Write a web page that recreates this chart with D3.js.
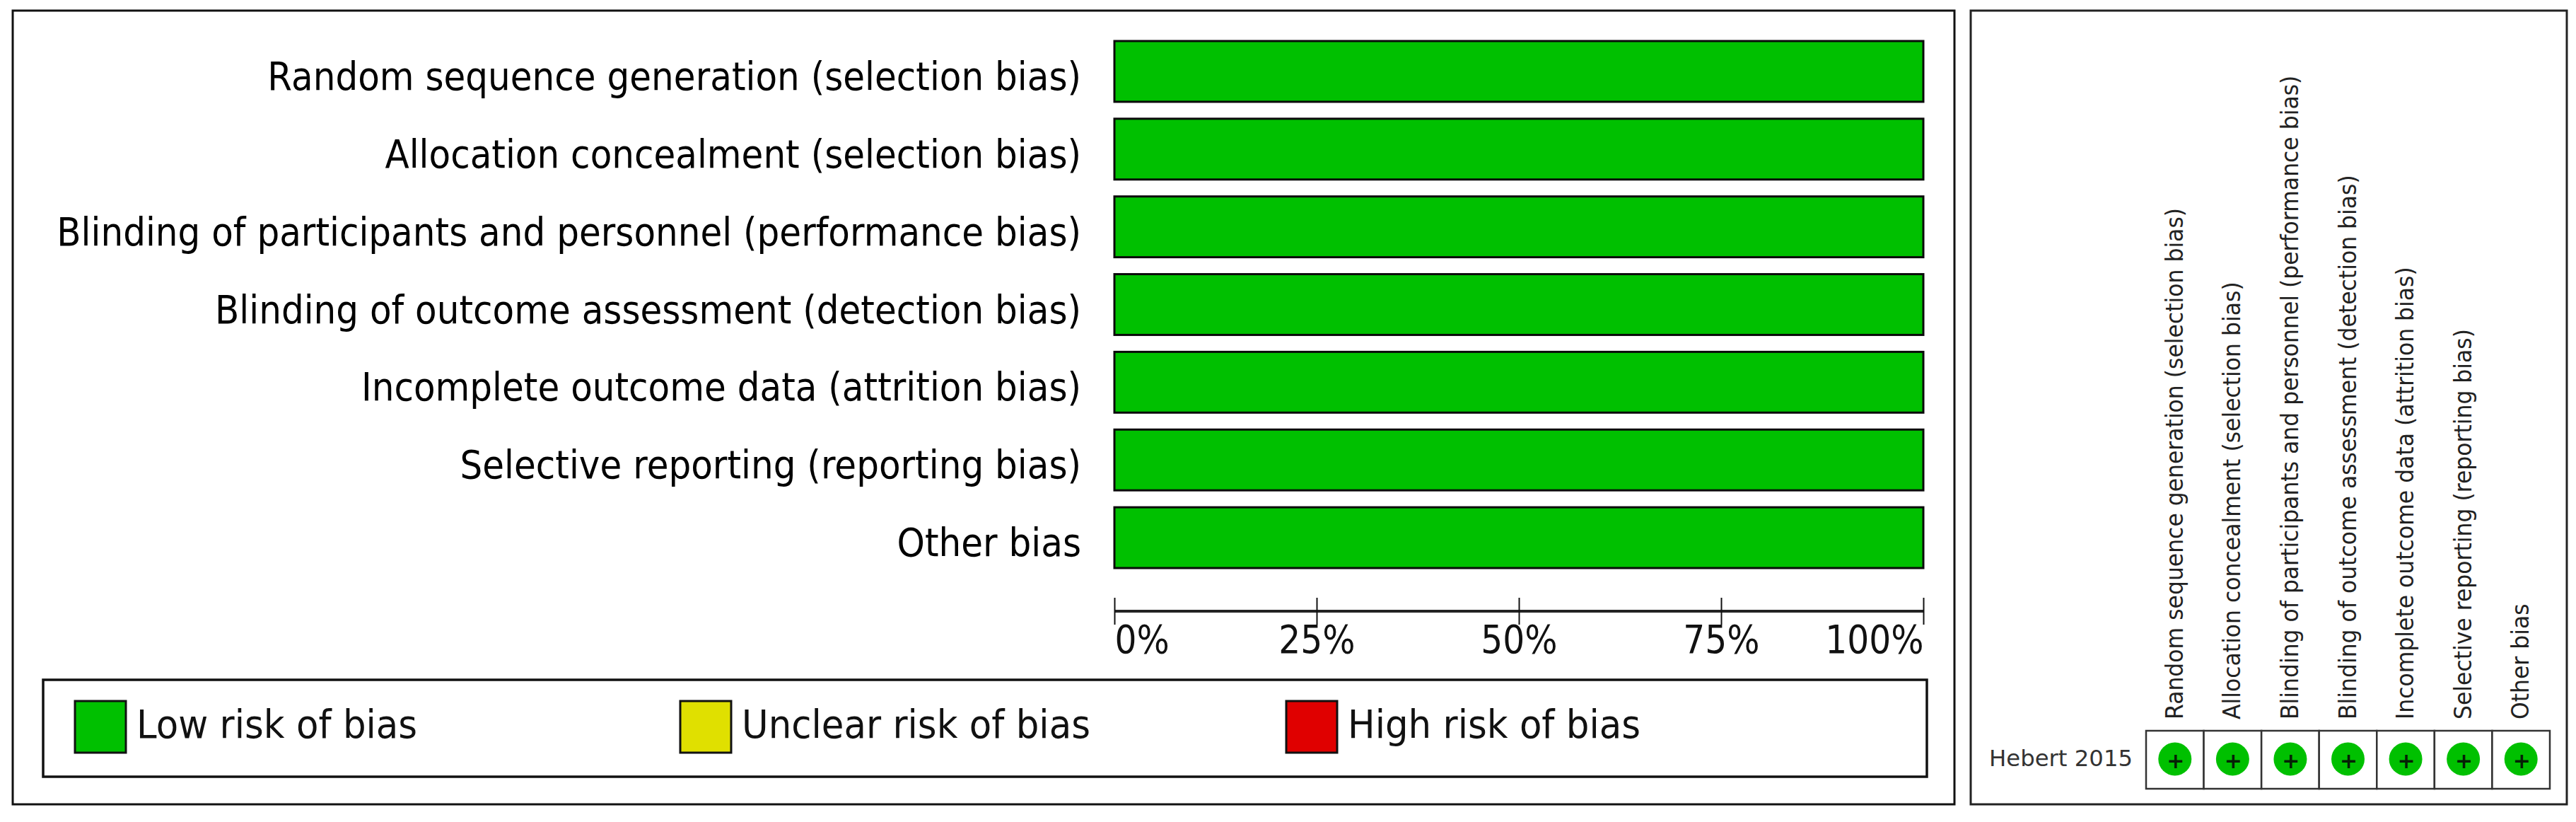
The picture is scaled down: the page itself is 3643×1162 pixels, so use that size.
<!DOCTYPE html>
<html>
<head>
<meta charset="utf-8">
<script src="https://cdn.jsdelivr.net/npm/d3@7"></script>
<style>
body { margin: 0; background: #fff; }
svg { display: block; }
text { font-family: "DejaVu Sans", sans-serif; }
</style>
</head>
<body>
<div id="chart"></div>
<script>
// risk of bias domains, same order in both panels
var domains = [
    "Random sequence generation (selection bias)",
    "Allocation concealment (selection bias)",
    "Blinding of participants and personnel (performance bias)",
    "Blinding of outcome assessment (detection bias)",
    "Incomplete outcome data (attrition bias)",
    "Selective reporting (reporting bias)",
    "Other bias"
];
var lowRisk = [100, 100, 100, 100, 100, 100, 100];
var percentTicks = [0, 25, 50, 75, 100];
var legendLabels = ["Low risk of bias", "Unclear risk of bias", "High risk of bias"];
var legendColors = ["#00c000", "#e0e000", "#e00000"];
var studies = ["Hebert 2015"];
var judgements = ["+", "+", "+", "+", "+", "+", "+"];

var svg = d3.select("#chart").append("svg")
    .attr("width", 3643)
    .attr("height", 1162);

// the original font is narrower than DejaVu, so squeeze the glyphs
function condense(selection, k) {
    selection.each(function () {
        this.setAttribute("textLength", this.getComputedTextLength() * k);
        this.setAttribute("lengthAdjust", "spacingAndGlyphs");
    });
}

// panel frames
svg.append("rect").attr("x", 18).attr("y", 15).attr("width", 2746).attr("height", 1122)
    .attr("fill", "none").attr("stroke", "#111").attr("stroke-width", 3);
svg.append("rect").attr("x", 2787).attr("y", 15).attr("width", 843).attr("height", 1122)
    .attr("fill", "none").attr("stroke", "#222").attr("stroke-width", 3);

// left panel scales
var x = d3.scaleLinear().domain([0, 100]).range([1576, 2720]);
var y = d3.scaleBand().domain(domains).range([58, 803]).paddingInner(0.218);

// category labels
var yAxis = svg.append("g")
    .attr("transform", "translate(1576,0)")
    .call(d3.axisLeft(y).tickSize(0).tickPadding(47));
yAxis.select(".domain").remove();
yAxis.selectAll("text")
    .attr("dy", 0)
    .attr("y", 26)
    .attr("font-size", 55)
    .attr("fill", "#000")
    .call(condense, 0.91);

// bars
svg.selectAll(".bar")
    .data(domains)
    .enter()
    .append("rect")
    .attr("class", "bar")
    .attr("x", x(0))
    .attr("y", function (d) { return y(d); })
    .attr("width", function (d, i) { return x(lowRisk[i]) - x(0); })
    .attr("height", y.bandwidth())
    .attr("fill", legendColors[0])
    .attr("stroke", "#0a0a0a")
    .attr("stroke-width", 3);

// percent axis, ticks cross the line
var xAxis = svg.append("g")
    .attr("transform", "translate(0,864)")
    .call(d3.axisBottom(x).tickValues(percentTicks).tickFormat(function (d) { return d + "%"; }));
xAxis.select(".domain").attr("d", "M" + x(0) + ",0H" + x(100)).attr("stroke", "#222").attr("stroke-width", 4);
xAxis.selectAll("line").attr("y1", -19).attr("y2", 19).attr("stroke", "#111").attr("stroke-width", 2);
xAxis.selectAll("text")
    .attr("y", 59)
    .attr("dy", 0)
    .attr("font-size", 56)
    .attr("fill", "#111")
    .attr("text-anchor", function (d) { return d == 0 ? "start" : (d == 100 ? "end" : "middle"); })
    .call(condense, 0.87);

// legend
svg.append("rect").attr("x", 61).attr("y", 961).attr("width", 2664).attr("height", 137)
    .attr("fill", "none").attr("stroke", "#111").attr("stroke-width", 3.5);
var legendX = d3.scaleOrdinal().domain(legendLabels).range([106, 962, 1819]);
var legend = svg.selectAll(".legend-item")
    .data(legendLabels)
    .enter()
    .append("g")
    .attr("class", "legend-item")
    .attr("transform", function (d) { return "translate(" + legendX(d) + ",991)"; });
legend.append("rect")
    .attr("width", 72)
    .attr("height", 73)
    .attr("fill", function (d, i) { return legendColors[i]; })
    .attr("stroke", "#111")
    .attr("stroke-width", 3);
legend.append("text")
    .attr("x", 87)
    .attr("y", 52)
    .attr("font-size", 55)
    .attr("fill", "#111")
    .text(function (d) { return d; })
    .call(condense, 0.935);

// right panel summary grid
var cellX = d3.scaleBand().domain(domains).range([3035, 3606]);
var cellY = d3.scaleBand().domain(studies).range([1033, 1115]);

var topAxis = svg.append("g")
    .attr("transform", "translate(0,1033)")
    .call(d3.axisTop(cellX).tickSize(0));
topAxis.select(".domain").remove();
topAxis.selectAll("text")
    .attr("x", 0)
    .attr("y", 0)
    .attr("dy", 0)
    .attr("font-size", 34)
    .attr("fill", "#222")
    .attr("text-anchor", "start")
    .attr("transform", "translate(11,-16) rotate(-90)")
    .call(condense, 0.925);

var leftAxis = svg.append("g")
    .attr("transform", "translate(3035,0)")
    .call(d3.axisLeft(cellY).tickSize(0).tickPadding(19));
leftAxis.select(".domain").remove();
leftAxis.selectAll("text")
    .attr("dy", 0)
    .attr("y", 9)
    .attr("font-size", 32)
    .attr("fill", "#333")
    .call(condense, 1.01);

svg.selectAll(".cell")
    .data(domains)
    .enter()
    .append("rect")
    .attr("class", "cell")
    .attr("x", function (d) { return cellX(d); })
    .attr("y", cellY(studies[0]))
    .attr("width", cellX.bandwidth())
    .attr("height", cellY.bandwidth())
    .attr("fill", "#fff")
    .attr("stroke", "#333")
    .attr("stroke-width", 2.5);

svg.selectAll(".dot")
    .data(domains)
    .enter()
    .append("circle")
    .attr("class", "dot")
    .attr("cx", function (d) { return cellX(d) + cellX.bandwidth() / 2; })
    .attr("cy", cellY(studies[0]) + cellY.bandwidth() / 2 - 1)
    .attr("r", 23.5)
    .attr("fill", legendColors[0]);

svg.selectAll(".sign")
    .data(domains)
    .enter()
    .append("text")
    .attr("class", "sign")
    .attr("x", function (d) { return cellX(d) + cellX.bandwidth() / 2 + 1; })
    .attr("y", cellY(studies[0]) + cellY.bandwidth() / 2 + 12)
    .attr("text-anchor", "middle")
    .attr("font-size", 30)
    .attr("font-weight", "bold")
    .attr("fill", "#062006")
    .text(function (d, i) { return judgements[i]; });
</script>
</body>
</html>
